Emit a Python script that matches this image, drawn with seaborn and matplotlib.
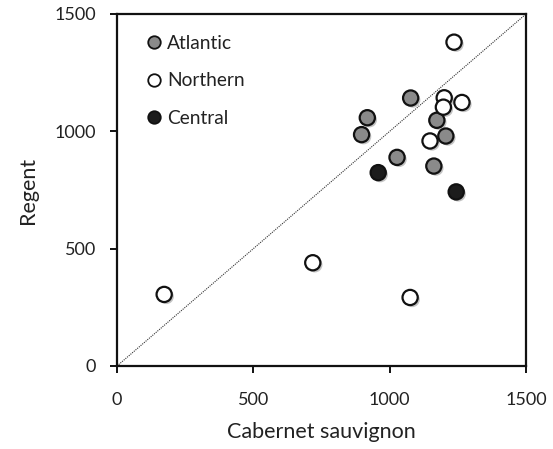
import matplotlib
matplotlib.use("Agg")
import matplotlib.pyplot as plt
import matplotlib.patheffects as pe
from matplotlib.lines import Line2D
import seaborn as sns
import pandas as pd

regions = ["Atlantic"] * 7 + ["Northern"] * 8 + ["Central"] * 2
cabernet = [1077, 918, 897, 1173, 1206, 1027, 1162,
            1236, 1200, 1197, 1265, 1148, 173, 718, 1075,
            958, 1244]
regent = [1142, 1058, 986, 1047, 980, 889, 852,
          1380, 1143, 1103, 1123, 959, 305, 440, 292,
          824, 742]
region_order = ["Atlantic", "Northern", "Central"]
region_colors = {"Atlantic": "#8a8a8a", "Northern": "#ffffff", "Central": "#1c1c1c"}
ticks = [0, 500, 1000, 1500]

df = pd.DataFrame({"Region": regions, "Cabernet sauvignon": cabernet, "Regent": regent})

sns.set_theme(style="white")
plt.rcParams["font.family"] = ["Lato", "DejaVu Sans"]

fig = plt.figure(figsize=(5.53, 4.49), dpi=100)
ax = fig.add_axes([117 / 553, 1 - 366 / 449, (526 - 117) / 553, (366 - 14) / 449])

ax.plot([0, 1500], [0, 1500], linestyle=(0, (1, 1)), color="#333333", linewidth=0.8, zorder=1)

sns.scatterplot(data=df, x="Cabernet sauvignon", y="Regent", hue="Region",
                hue_order=region_order, palette=region_colors, s=120,
                edgecolor="#111111", linewidth=1.6, legend=False, ax=ax, zorder=3)
for coll in ax.collections:
    coll.set_path_effects([pe.SimplePatchShadow(offset=(1.5, -1.5), alpha=0.35, shadow_rgbFace="#555555"),
                           pe.Normal()])

ax.set_xlim(0, 1500)
ax.set_ylim(0, 1500)
ax.set_xticks(ticks)
ax.set_yticks(ticks)
ax.set_xticklabels([str(t) for t in ticks])
ax.set_yticklabels([str(t) for t in ticks])

for sp in ax.spines.values():
    sp.set_visible(True)
    sp.set_color("#111111")
    sp.set_linewidth(1.6)

ax.tick_params(axis="both", which="major", direction="out", length=5, width=1.4,
               colors="#111111", labelcolor="#222222", labelsize=13,
               bottom=True, left=True, top=False, right=False)
ax.tick_params(axis="x", pad=14)
ax.tick_params(axis="y", pad=10)

ax.set_xlabel("Cabernet sauvignon", fontsize=15.5, color="#222222", labelpad=10)
ax.set_ylabel("Regent", fontsize=15.5, color="#222222", labelpad=12)

handles = [Line2D([0], [0], marker="o", linestyle="none", markersize=9,
                  markerfacecolor=region_colors[r], markeredgecolor="#111111",
                  markeredgewidth=1.3, label=r) for r in region_order]
ax.legend(handles=handles, loc="upper left", bbox_to_anchor=(0.02, 0.99), frameon=False,
          fontsize=13.8, labelspacing=1.08, handletextpad=0.1, handlelength=1.2,
          labelcolor="#222222")

fig.savefig("out.png", dpi=100)
